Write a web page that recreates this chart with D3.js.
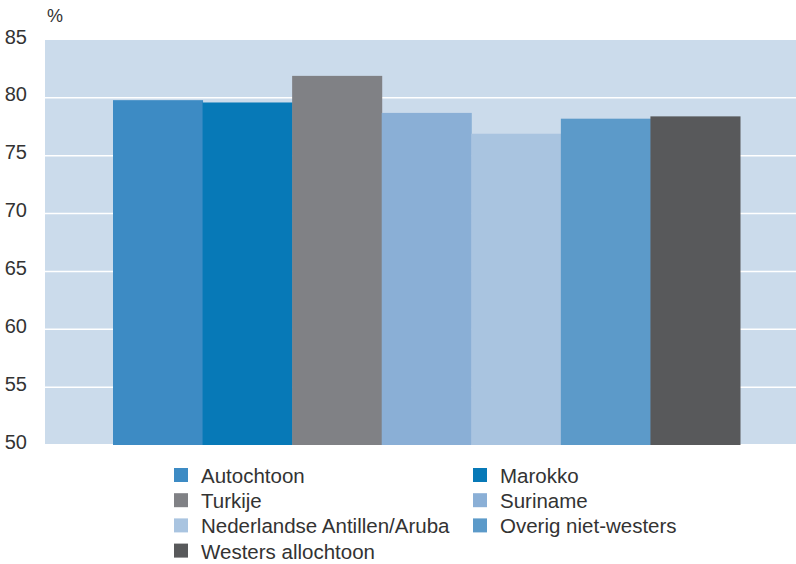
<!DOCTYPE html>
<html>
<head>
<meta charset="utf-8">
<script src="https://cdn.jsdelivr.net/npm/d3@7"></script>
<style>
    body { margin: 0; background: #fff; }
    text { font-family: "Liberation Sans", Arial, sans-serif; fill: #333; }
</style>
</head>
<body>
<div id="chart"></div>
<script>
// categorieën en waarden (levensverwachting, %)
const categories = ['Autochtoon', 'Marokko', 'Turkije', 'Suriname',
    'Nederlandse Antillen/Aruba', 'Overig niet-westers', 'Westers allochtoon'];
const values = [79.8, 79.6, 81.9, 78.7, 76.9, 78.2, 78.4];
const colors = ['#3d8bc4', '#0779b7', '#808185', '#8aafd6', '#a9c4e0', '#5c9ac9', '#58595b'];
const yTicks = [50, 55, 60, 65, 70, 75, 80, 85];
// volgorde in de legenda (twee kolommen)
const legendOrder = ['Autochtoon', 'Marokko', 'Turkije', 'Suriname',
    'Nederlandse Antillen/Aruba', 'Overig niet-westers', 'Westers allochtoon'];

const width = 796, height = 564;
const plot = { left: 45, right: 796, top: 40, bottom: 445 };

const svg = d3.select('#chart').append('svg')
    .attr('width', width)
    .attr('height', height);

const xScale = d3.scaleBand().domain(categories).range([113, 740]).padding(0);
const yScale = d3.scaleLinear().domain([50, 85]).range([plot.bottom, plot.top]);

// achtergrond
svg.append('rect')
    .attr('x', plot.left).attr('y', plot.top)
    .attr('width', plot.right - plot.left)
    .attr('height', plot.bottom - 1 - plot.top)
    .attr('fill', '#cbdbeb');

// witte rasterlijnen
svg.selectAll('.grid').data(yTicks.filter(d => d > 50 && d < 85))
    .enter().append('line').classed('grid', true)
    .attr('x1', plot.left).attr('x2', plot.right)
    .attr('y1', d => yScale(d)).attr('y2', d => yScale(d))
    .attr('stroke', '#fff').attr('stroke-width', 1.5);

// staven
svg.selectAll('.bar').data(values)
    .enter().append('rect').classed('bar', true)
    .attr('x', (d, i) => xScale(categories[i]))
    .attr('width', xScale.bandwidth() + 0.5)
    .attr('y', d => yScale(d))
    .attr('height', d => plot.bottom - yScale(d))
    .attr('fill', (d, i) => colors[i]);

// y-as
const yAxis = d3.axisLeft(yScale).tickValues(yTicks).tickSize(0).tickPadding(0);
const gy = svg.append('g')
    .attr('transform', 'translate(27,0)')
    .call(yAxis);
gy.select('.domain').remove();
gy.selectAll('text')
    .style('font-family', '"Liberation Sans", Arial, sans-serif')
    .style('font-size', '20px')
    .attr('fill', '#333')
    .attr('dy', '0.15em');

svg.append('text')
    .attr('x', 47).attr('y', 22)
    .style('font-size', '18px')
    .text('%');

// legenda
const legend = svg.append('g');
legendOrder.forEach(function (name, i) {
    const col = i % 2, row = Math.floor(i / 2);
    const g = legend.append('g')
        .attr('transform', 'translate(' + (174 + col * 299) + ',' + (468 + row * 25.2) + ')');
    g.append('rect')
        .attr('width', 14).attr('height', 14)
        .attr('fill', colors[categories.indexOf(name)]);
    g.append('text')
        .attr('x', 27).attr('y', 15)
        .style('font-size', '20.5px')
        .text(name);
});
</script>
</body>
</html>
